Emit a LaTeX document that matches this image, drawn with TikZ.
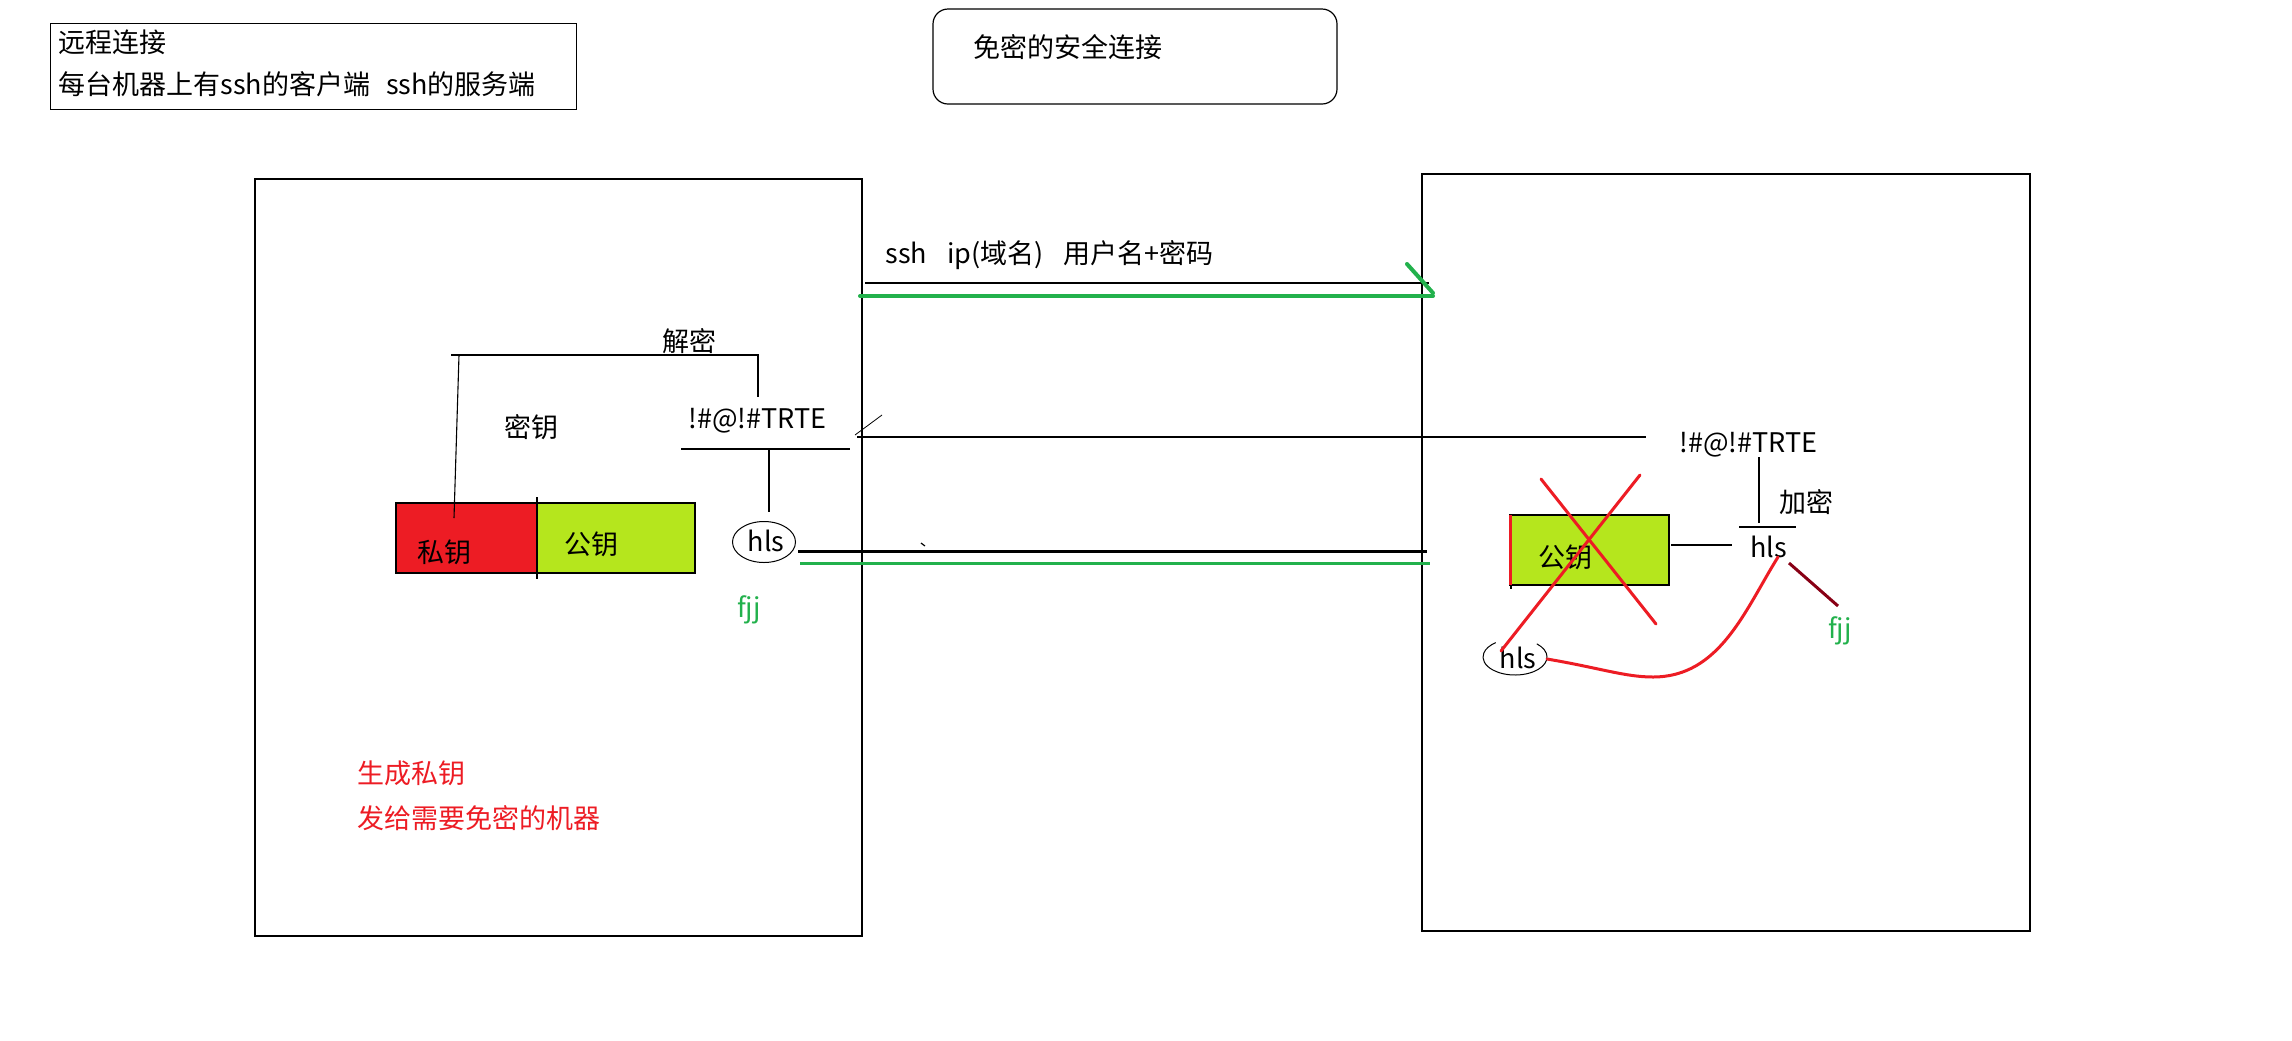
\documentclass[tikz,border=0pt]{standalone}
\usepackage{fontspec}
\usetikzlibrary{shapes.geometric}
\setmainfont{Noto Sans CJK SC}
\definecolor{pred}{HTML}{ED1C24}
\definecolor{plime}{HTML}{B5E61D}
\definecolor{pgreen}{HTML}{22B14C}
\definecolor{pdark}{HTML}{880015}
\begin{document}
\begin{tikzpicture}[x=0.5pt,y=-0.5pt,
  txt/.style={inner sep=0pt, anchor=west, font=\fontsize{13.5pt}{16pt}\selectfont, text height=11.9pt, text depth=1.6pt},
  frame/.style={draw=black, line width=0.7pt},
  thin/.style={draw=black, line width=0.55pt},
  keybox/.style={draw=black, line width=0.6pt},
  redpen/.style={draw=pred, line width=1.5pt, line cap=round},
  greenpen/.style={draw=pgreen, line width=1.6pt, line cap=round}]
\useasboundingbox (0,0) rectangle (2292,1040);
\fill[white] (0,0) rectangle (2292,1040);

% top info box and title box
\node[frame, rectangle, minimum width=263pt, minimum height=43pt, anchor=north west, inner sep=0pt] (info) at (50,23) {};
\node[txt] (t1) at (58,42) {远程连接};
\node[txt] (t2) at (58,84) {每台机器上有ssh的客户端\hspace{0.6em}ssh的服务端};
\draw[frame, line width=0.6pt, rounded corners=7.5pt] (933,9) rectangle (1337,104);
\node[txt] (title) at (973,47) {免密的安全连接};

% machines
\draw[frame] (255,179) rectangle (862,936);
\draw[frame] (1422,174) rectangle (2030,931);

% left machine content
\filldraw[keybox, fill=pred] (396,503) rectangle (537,573);
\filldraw[keybox, fill=plime] (537,503) rectangle (695,573);
\draw[thin] (537,497) -- (537,579);
\node[txt] (siyao) at (417,552) {私钥};
\node[txt] (gongyaoL) at (564,544) {公钥};
\node[txt] (miyao) at (504,427) {密钥};
\node[txt] (jiemi) at (662,341) {解密};
\node[txt] (cipherL) at (688,418) {!\#@!\#TRTE};
\node[draw, ellipse, line width=0.5pt, minimum width=31.5pt, minimum height=20.5pt, inner sep=0pt] (hlsLe) at (764,542) {};
\node[txt, anchor=center] (hlsL) at (766,541) {hls};
\node[txt, text=pgreen] (fjjL) at (737,607) {fjj};
\node[txt, text=pred] (gen1) at (357,773) {生成私钥};
\node[txt, text=pred] (gen2) at (357,818) {发给需要免密的机器};

\coordinate (b1) at (454,518);
\coordinate (b2) at (459,355);
\coordinate (b3) at (451,355);
\coordinate (b4) at (759,355);
\coordinate (b5) at (758,397);
\draw[thin] (b1) -- (b2);
\draw[thin] (b3) -- (b4);
\draw[thin] (b4) ++(-1,0) -- (b5);
\coordinate (uL1) at (681,449);
\coordinate (uL2) at (850,449);
\draw[thin] (uL1) -- (uL2);
\coordinate (vL1) at (769,448);
\coordinate (vL2) at (769,512);
\draw[thin] (vL1) -- (vL2);

% connections between machines
\node[txt] (sshlabel) at (885,253) {ssh\hspace{0.75em}ip(域名)\hspace{0.75em}用户名+密码};
\coordinate (s1) at (865,283);
\coordinate (s2) at (1429,283);
\draw[thin] (s1) -- (s2);
\coordinate (g1) at (860,296);
\coordinate (g2) at (1433,296);
\coordinate (g3) at (1407,264);
\coordinate (g4) at (1433,293);
\draw[greenpen, line width=2pt] (g1) -- (g2);
\draw[greenpen, line width=2pt] (g3) -- (g4);

\coordinate (r1) at (857,437);
\coordinate (r2) at (1646,437);
\draw[thin] (r1) -- (r2);
\coordinate (sl1) at (855,435);
\coordinate (sl2) at (882,415);
\draw[black, line width=0.4pt] (sl1) -- (sl2);

\coordinate (k1) at (798,551);
\coordinate (k2) at (1427,551);
\draw[black, line width=1.5pt] (k1) -- (k2);
\coordinate (gg1) at (800,563);
\coordinate (gg2) at (1430,563);
\draw[pgreen, line width=1.5pt] (gg1) -- (gg2);
\coordinate (tick1) at (921,543);
\coordinate (tick2) at (925,546);
\draw[black, line width=0.6pt] (tick1) -- (tick2);

% right machine content
\node[txt] (cipherR) at (1679,442) {!\#@!\#TRTE};
\coordinate (vR1) at (1759,457);
\coordinate (vR2) at (1759,523);
\draw[thin] (vR1) -- (vR2);
\node[txt] (jiami) at (1779,502) {加密};
\coordinate (uR1) at (1739,527);
\coordinate (uR2) at (1796,527);
\draw[thin] (uR1) -- (uR2);
\node[txt] (hlsR) at (1750,547) {hls};
\filldraw[keybox, fill=plime] (1510,515) rectangle (1669,585);
\draw[thin] (1511,585) -- (1511,589);
\draw[pred, line width=1.5pt] (1510,515) -- (1510,585);
\node[txt] (gongyaoR) at (1538,557) {公钥};
\coordinate (kR) at (1671,545);
\coordinate (hR) at (1732,545);
\draw[thin] (kR) -- (hR);

\draw[black, line width=0.5pt] (1515,657) ++(-47:32 and 18) arc[start angle=-47, end angle=233, x radius=32, y radius=18];
\node[txt, anchor=center] (hlsR2) at (1518,658) {hls};

\coordinate (x1a) at (1541,479);
\coordinate (x1b) at (1656,624);
\coordinate (x2a) at (1640,475);
\coordinate (x2b) at (1501,651);
\draw[redpen] (x1a) -- (x1b);
\draw[redpen] (x2a) -- (x2b);

\coordinate (c1) at (1547,659);
\coordinate (cm) at (1653,677);
\coordinate (c2) at (1778,557);
\draw[redpen] (c1) .. controls (1600,668) and (1625,677) .. (cm) .. controls (1720,677) and (1745,610) .. (c2);

\coordinate (d1) at (1789,563);
\coordinate (d2) at (1838,606);
\draw[pdark, line width=1.5pt] (d1) -- (d2);
\node[txt, text=pgreen] (fjjR) at (1828,628) {fjj};
\end{tikzpicture}
\end{document}
